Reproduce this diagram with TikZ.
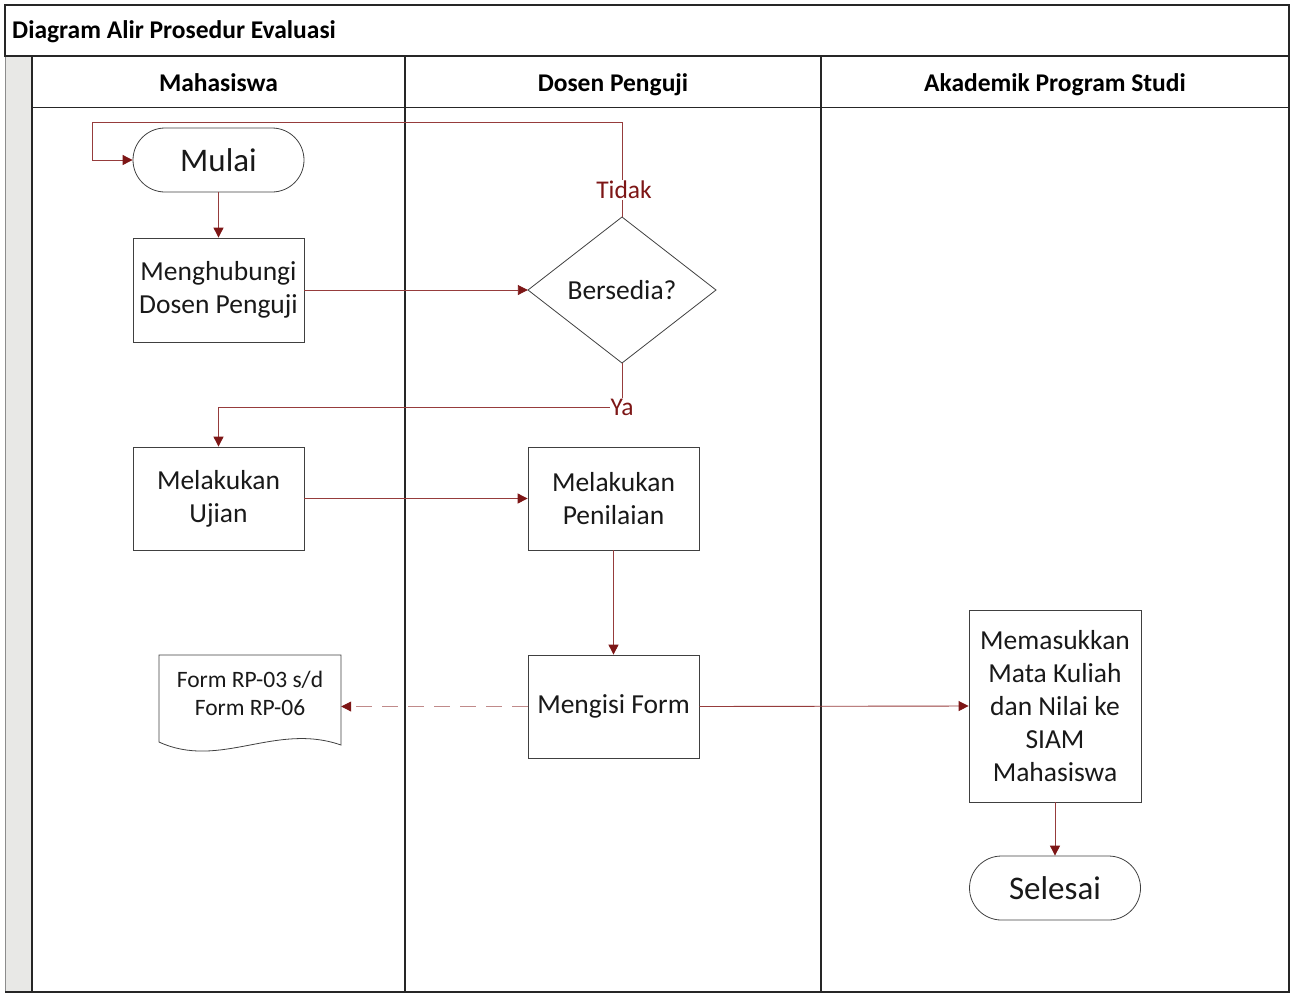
\documentclass[tikz,border=0pt]{standalone}
\usepackage{fontspec}
\setmainfont{Carlito}
\usetikzlibrary{arrows.meta}
\definecolor{arr}{RGB}{125,22,22}
\definecolor{arrl}{RGB}{150,60,60}
\definecolor{strip}{RGB}{232,232,230}
\begin{document}
\begin{tikzpicture}[x=1pt,y=-1pt,
  frame/.style={draw=black!85,line width=1.3pt},
  procbox/.style={draw=black!75,line width=0.8pt,minimum width=171pt,inner sep=0pt,align=center,font=\fontsize{27.5}{33}\selectfont,text=black!90},
  termbox/.style={draw=black!75,line width=0.8pt,rounded corners=32pt,minimum width=171pt,minimum height=64pt,inner sep=0pt,font=\fontsize{33}{38}\selectfont,text=black!90},
  flow/.style={draw=arrl,line width=0.9pt,-{Triangle[length=10pt,width=10pt,fill=arr,color=arr]}},
  lbl/.style={fill=white,inner sep=1.5pt,text=arr,font=\fontsize{25.5}{28}\selectfont},
  hdr/.style={font=\bfseries\fontsize{25.5}{30}\selectfont,anchor=base}]
\useasboundingbox (0,0) rectangle (1290,994);
% strip
\fill[strip] (5,56) rectangle (32,992);
\draw[black!45,line width=0.8pt] (5,56) -- (5,992);
% title box
\draw[frame] (5,5) rectangle (1289,56);
\node[hdr,anchor=base west,inner sep=0pt] (title) at (12,38) {Diagram Alir Prosedur Evaluasi};
% lanes
\draw[frame] (32,56) rectangle (1289,992);
\draw[frame] (405,56) -- (405,992);
\draw[frame] (821,56) -- (821,992);
\draw[black!85,line width=1pt] (32,107) -- (1289,107);
\draw[black!85,line width=1.3pt] (5,992) -- (32,992);
\node[hdr] (h1) at (218.5,91) {Mahasiswa};
\node[hdr] (h2) at (613,91) {Dosen Penguji};
\node[hdr] (h3) at (1055,91) {Akademik Program Studi};
% nodes
\node[termbox] (mulai) at (218.5,160) {Mulai};
\node[procbox,minimum height=104pt] (hub) at (218.5,290) {Menghubungi\\Dosen Penguji};
\draw[black!75,line width=0.8pt] (528,290) -- (622,217) -- (716,290) -- (622,363) -- cycle;
\node[inner sep=0pt,minimum width=188pt,minimum height=146pt,font=\fontsize{27.5}{33}\selectfont,text=black!90] (dia) at (622,290) {Bersedia?};
\node[procbox,minimum height=103pt] (ujian) at (218.5,498.5) {Melakukan\\Ujian};
\node[procbox,minimum height=103pt] (nilai) at (613.5,498.5) {Melakukan\\Penilaian};
\node[procbox,minimum height=103pt] (isi) at (613.5,706.5) {Mengisi Form};
\node[procbox,minimum width=172pt,minimum height=192pt] (masuk) at (1055,706) {Memasukkan\\Mata Kuliah\\dan Nilai ke\\SIAM\\Mahasiswa};
\node[termbox] (selesai) at (1055,888) {Selesai};
% document
\draw[black!75,line width=0.8pt,fill=white] (159,655) -- (341,655) -- (341,745)
  .. controls (275,722) and (220,770) .. (159,742) -- cycle;
\node[inner sep=0pt,minimum width=182pt,minimum height=60pt,align=center,font=\fontsize{23.5}{28}\selectfont,text=black!90] (doc) at (250,693) {Form RP-03 s/d\\Form RP-06};
% connectors
\coordinate (t1) at (622,122);
\coordinate (t2) at (92,122);
\coordinate (y1) at (218.5,407);
\draw[flow] (dia.north) -- (t1) -- (t2) |- (mulai.west);
\node[lbl] (tidak) at (624,190) {Tidak};
\draw[flow] (mulai.south) -- (hub.north);
\draw[flow] (hub.east) -- (dia.west);
\draw[flow] (dia.south) |- (y1) -- (ujian.north);
\node[lbl,inner sep=0.5pt] (ya) at (622,407) {Ya};
\draw[flow] (ujian.east) -- (nilai.west);
\draw[flow] (nilai.south) -- (isi.north);
\draw[flow] (isi.east) -- (masuk.west);
\draw[flow] (masuk.south) -- (selesai.north);
\draw[flow,draw=arrl!60,dash pattern=on 16pt off 10pt] (isi.west) -- (isi.west -| doc.east);
\end{tikzpicture}
\end{document}
